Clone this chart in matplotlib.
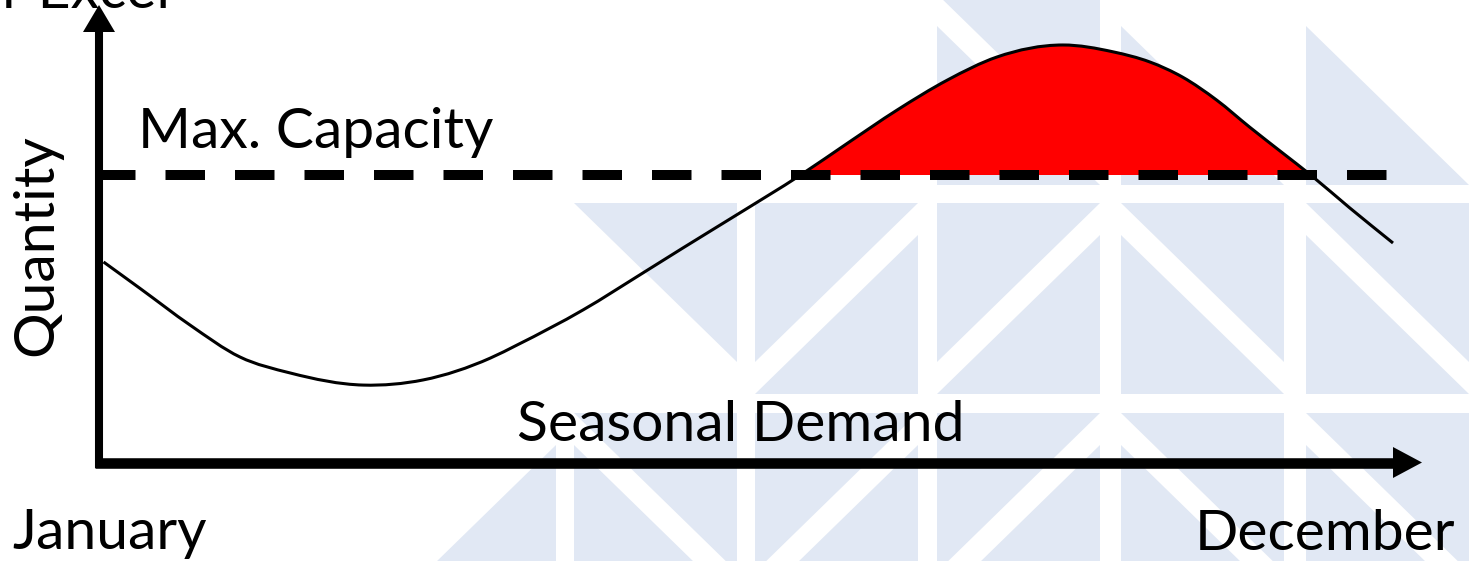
import matplotlib
matplotlib.use("Agg")
import matplotlib.pyplot as plt
from matplotlib.patches import Polygon, PathPatch, Rectangle
from matplotlib.path import Path
import numpy as np

# Seasonal demand curve (month index, quantity), capacity ceiling at 100
months = [0.03, 0.34, 0.77, 1.19, 1.62, 2.24, 2.75, 3.32, 3.55, 4.11, 4.62,
          4.96, 5.42, 5.96, 6.36, 6.78, 7.21, 7.63, 8.19, 8.62, 8.93, 9.21,
          9.50, 9.78, 10.06, 10.30, 10.63, 11.0]
demand = [69.7, 60.5, 47.6, 36.6, 31.0, 26.8, 28.6, 36.2, 40.8, 53.0, 65.9,
          74.6, 86.2, 100.0, 111.1, 122.6, 133.1, 141.1, 145.3, 142.9, 139.4,
          134.1, 126.1, 116.7, 107.7, 100.0, 88.6, 76.3]
capacity = 100.0
capacity_span = [-0.03, 11.03]

x_label_left = "January"
x_label_right = "December"
y_label = "Quantity"
curve_label = "Seasonal Demand"
capacity_label = "Max. Capacity"

# background watermark: (column, row, triangles in that tile)
tile_cols = [393, 574, 755, 937, 1121, 1306]
tile_rows = [-6, 203, 413]
tiles = [
    (3, 0, "UR LL"), (4, 0, "LL"), (5, 0, "LL"),
    (1, 1, "UR"), (2, 1, "UL LR"), (3, 1, "UL LR"), (4, 1, "UR LL"), (5, 1, "UR LL"),
    (0, 2, "LR"), (1, 2, "UR LL"), (2, 2, "UL LR"), (3, 2, "UL LR"), (4, 2, "UR LL"), (5, 2, "UR LL"),
]
TILE_W, TILE_H, LEG = 163, 191, 159

W, H = 1481, 561
fig = plt.figure(figsize=(W / 100, H / 100), dpi=100)
fig.patch.set_facecolor("white")

# pixel-space layer for the watermark, axis arrows and labels
bg = fig.add_axes([0, 0, 1, 1])
bg.set_xlim(0, W)
bg.set_ylim(H, 0)
bg.axis("off")


def tri_points(L, T, kind):
    R, B = L + TILE_W, T + TILE_H
    off = TILE_H - LEG
    return {
        "UR": [(L, T), (R, T), (R, T + LEG)],
        "LL": [(L, T + off), (L, B), (R, B)],
        "UL": [(L, T), (R, T), (L, T + LEG)],
        "LR": [(R, T + off), (R, B), (L, B)],
    }[kind]


for ci, ri, kinds in tiles:
    for k in kinds.split():
        bg.add_patch(Polygon(tri_points(tile_cols[ci], tile_rows[ri], k),
                             closed=True, facecolor="#e1e8f4", edgecolor="none", zorder=0))


def smooth_path(xs, ys):
    """Bezier segments through every point, tangents from neighbouring points."""
    x = np.asarray(xs, float)
    y = np.asarray(ys, float)
    slope = np.gradient(y, x)
    verts = [(x[0], y[0])]
    codes = [Path.MOVETO]
    for i in range(len(x) - 1):
        h = (x[i + 1] - x[i]) / 3.0
        verts += [(x[i] + h, y[i] + slope[i] * h),
                  (x[i + 1] - h, y[i + 1] - slope[i + 1] * h),
                  (x[i + 1], y[i + 1])]
        codes += [Path.CURVE4] * 3
    return verts, codes


# main chart layer: months on x, quantity on y
ax = fig.add_axes([0, 0, 1, 1])
ax.patch.set_alpha(0)
kx = 11 / 1293.0
ky = 100 / 287.0
ax.set_xlim(-100 * kx, (W - 100) * kx)
ax.set_ylim(-(H - 462) * ky, 462 * ky)
ax.axis("off")

verts, codes = smooth_path(months, demand)

# shortage area: region between curve and capacity, kept only above capacity
area = PathPatch(Path(verts + [(months[-1], capacity), (months[0], capacity), verts[0]],
                      codes + [Path.LINETO, Path.LINETO, Path.CLOSEPOLY]),
                 facecolor="#ff0000", edgecolor="none", zorder=2)
ax.add_patch(area)
clip = Rectangle((months[0], capacity), months[-1] - months[0], 100,
                 transform=ax.transData)
area.set_clip_path(clip)

ax.plot(capacity_span, [capacity, capacity], color="black", lw=7.2,
        dashes=(3.95, 3.0), solid_capstyle="butt", zorder=3)
ax.add_patch(PathPatch(Path(verts, codes), facecolor="none", edgecolor="black",
                       lw=2.2, zorder=4))

# axis arrows
bg.plot([99, 99], [468, 30], color="black", lw=5.8, solid_capstyle="butt", zorder=5)
bg.add_patch(Polygon([(83, 32), (115, 32), (99, 5)], closed=True,
                     facecolor="black", edgecolor="none", zorder=5))
bg.plot([95, 1395], [462.5, 462.5], color="black", lw=7.6, solid_capstyle="butt", zorder=5)
bg.add_patch(Polygon([(1393, 447), (1393, 478), (1422, 462.5)], closed=True,
                     facecolor="black", edgecolor="none", zorder=5))

font = dict(family="Lato", size=41, color="black", zorder=6)
bg.text(138, 148, capacity_label, ha="left", va="baseline", **font)
bg.text(517, 441, curve_label, ha="left", va="baseline", **font)
bg.text(12, 549, x_label_left, ha="left", va="baseline", **font)
bg.text(1455, 550, x_label_right, ha="right", va="baseline", **font)
bg.text(37, 245, y_label, ha="center", va="center", rotation=90, **font)
bg.text(170, 8, "for Excel", ha="right", va="baseline", **font)

fig.savefig("out.png", dpi=100)
